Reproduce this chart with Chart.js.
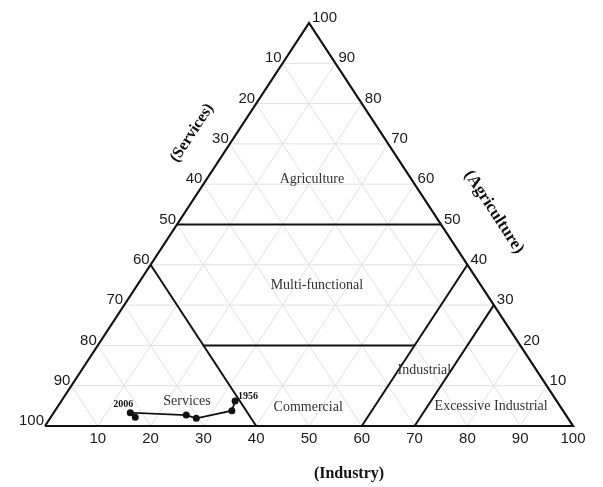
<!DOCTYPE html>
<html>
<head>
  <title>Ternary diagram</title>
  <script src="https://cdn.jsdelivr.net/npm/chart.js@4.4.1/dist/chart.umd.min.js"></script>
  <style>
    body { margin: 0; background: #fff; }
  </style>
</head>
<body>
  <canvas id="myChart" width="603" height="487"></canvas>
  <script>
    // tick values shared by all three axes
    const tickValues = [10, 20, 30, 40, 50, 60, 70, 80, 90, 100];
    const gridValues = [10, 20, 30, 40, 50, 60, 70, 80, 90];

    // trajectory 1956 -> 2006 (industry %, agriculture %; services is the rest)
    const pathIndustry = [32.9, 33.5, 27.7, 25.4, 14.5, 16.0];
    const pathAgriculture = [6.2, 3.8, 1.9, 2.7, 3.3, 2.2];
    const pathYears = ['1956', '', '', '', '2006', ''];

    // region boundaries as [industry, agriculture] end points
    const boundaries = [
      [[0, 50], [50, 50]],
      [[0, 40], [40, 0]],
      [[20, 20], [60, 20]],
      [[60, 0], [60, 40]],
      [[70, 0], [70, 30]]
    ];

    const regionNames = ['Agriculture', 'Multi-functional', 'Services', 'Commercial', 'Industrial', 'Excessive Industrial'];
    const regionIndustry = [19.9, 34.1, 23.9, 47.5, 65.0, 82.0];
    const regionAgriculture = [61.3, 34.8, 6.0, 4.7, 13.7, 5.0];

    // ternary -> cartesian
    function tern(i, a) {
      return { x: i + a / 2, y: a };
    }

    function lineSet(pts, color, width, order) {
      return {
        data: pts.map(p => tern(p[0], p[1])),
        showLine: true,
        borderColor: color,
        borderWidth: width,
        pointRadius: 0,
        clip: false,
        order: order
      };
    }

    const datasets = [];
    gridValues.forEach(k => {
      datasets.push(lineSet([[0, k], [100 - k, k]], '#e0e0e0', 1, 3));
      datasets.push(lineSet([[k, 0], [k, 100 - k]], '#e0e0e0', 1, 3));
      datasets.push(lineSet([[100 - k, 0], [0, 100 - k]], '#e0e0e0', 1, 3));
    });
    boundaries.forEach(b => datasets.push(lineSet(b, '#111', 2, 2)));
    datasets.push(lineSet([[0, 0], [100, 0], [0, 100], [0, 0]], '#111', 2.2, 2));
    datasets.push({
      data: pathIndustry.map((v, i) => tern(v, pathAgriculture[i])),
      showLine: true,
      borderColor: '#111',
      backgroundColor: '#111',
      borderWidth: 1.8,
      pointRadius: 2.6,
      clip: false,
      order: 1
    });

    const labelsPlugin = {
      id: 'ternLabels',
      afterDatasetsDraw(chart) {
        const ctx = chart.ctx;
        const xs = chart.scales.x, ys = chart.scales.y;
        const px = (i, a) => xs.getPixelForValue(i + a / 2);
        const py = a => ys.getPixelForValue(a);
        ctx.save();
        ctx.fillStyle = '#1a1a1a';
        ctx.font = '15px "Liberation Sans", Arial, sans-serif';
        ctx.textBaseline = 'middle';
        // services, left edge
        ctx.textAlign = 'right';
        tickValues.forEach(k => ctx.fillText(String(k), px(0, 100 - k) - 1, py(100 - k) - 5));
        // agriculture, right edge
        ctx.textAlign = 'left';
        tickValues.forEach(k => ctx.fillText(String(k), px(100 - k, k) + 3, py(k) - 5));
        // industry, base
        ctx.textAlign = 'center';
        tickValues.forEach(k => ctx.fillText(String(k), px(k, 0), py(0) + 13));

        // region names
        ctx.fillStyle = '#333';
        ctx.font = '14px "Liberation Serif", "Times New Roman", serif';
        regionNames.forEach((n, i) => ctx.fillText(n, px(regionIndustry[i], regionAgriculture[i]), py(regionAgriculture[i])));

        // year labels
        ctx.fillStyle = '#111';
        ctx.font = 'bold 10px "Liberation Serif", "Times New Roman", serif';
        pathYears.forEach((y, i) => {
          if (!y) return;
          const x = px(pathIndustry[i], pathAgriculture[i]);
          const yy = py(pathAgriculture[i]);
          if (i === 0) {
            ctx.textAlign = 'left';
            ctx.fillText(y, x + 3, yy - 5);
          } else {
            ctx.textAlign = 'center';
            ctx.fillText(y, x - 7, yy - 8);
          }
        });

        // axis titles
        ctx.font = 'bold 16px "Liberation Serif", "Times New Roman", serif';
        ctx.textAlign = 'center';
        ctx.fillText('(Industry)', 349, 474);
        ctx.save();
        ctx.translate(192, 133);
        ctx.rotate(-56.7 * Math.PI / 180);
        ctx.fillText('(Services)', 0, 0);
        ctx.restore();
        ctx.save();
        ctx.font = 'bold 17px "Liberation Serif", "Times New Roman", serif';
        ctx.translate(494, 212);
        ctx.rotate(56.9 * Math.PI / 180);
        ctx.fillText('(Agriculture)', 0, 0);
        ctx.restore();
        ctx.restore();
      }
    };

    new Chart('myChart', {
      type: 'scatter',
      data: { datasets: datasets },
      options: {
        responsive: false,
        animation: false,
        layout: { padding: { left: 45, right: 30, top: 23, bottom: 61 } },
        plugins: { legend: { display: false }, tooltip: { enabled: false } },
        scales: {
          x: { type: 'linear', min: 0, max: 100, display: false },
          y: { type: 'linear', min: 0, max: 100, display: false }
        }
      },
      plugins: [labelsPlugin]
    });
  </script>
</body>
</html>
